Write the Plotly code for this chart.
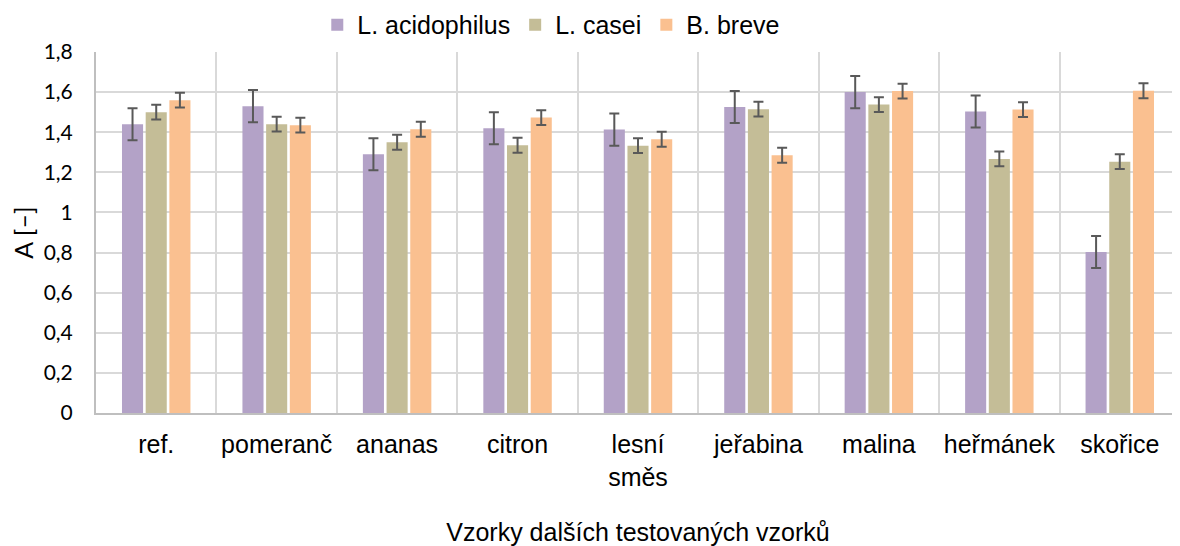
import plotly.graph_objects as go

categories = ["ref.", "pomeranč", "ananas", "citron", "lesní<br>směs", "jeřabina", "malina", "heřmánek", "skořice"]
acidophilus = [1.44, 1.53, 1.29, 1.42, 1.413, 1.526, 1.60, 1.503, 0.803]
casei = [1.50, 1.44, 1.35, 1.335, 1.333, 1.515, 1.538, 1.267, 1.253]
breve = [1.56, 1.435, 1.415, 1.473, 1.365, 1.285, 1.605, 1.513, 1.607]
err_acidophilus = [0.08, 0.08, 0.08, 0.08, 0.08, 0.08, 0.08, 0.08, 0.08]
err_casei = [0.037, 0.037, 0.037, 0.037, 0.037, 0.037, 0.037, 0.037, 0.037]
err_breve = [0.037, 0.037, 0.037, 0.037, 0.037, 0.037, 0.037, 0.037, 0.037]
y_ticks = [0, 0.2, 0.4, 0.6, 0.8, 1, 1.2, 1.4, 1.6, 1.8]
y_ticktext = ["0", "0,2", "0,4", "0,6", "0,8", "1", "1,2", "1,4", "1,6", "1,8"]

series = [
    ("L. acidophilus", acidophilus, err_acidophilus, "#b3a2c7"),
    ("L. casei", casei, err_casei, "#c4bd97"),
    ("B. breve", breve, err_breve, "#fac090"),
]

fig = go.Figure()
for name, vals, errs, color in series:
    fig.add_trace(go.Bar(
        name=name, x=categories, y=vals, marker=dict(color=color, line=dict(width=0)),
        error_y=dict(type="data", array=errs, visible=True, color="#595959", thickness=2, width=5),
    ))

fig.update_layout(
    width=1172, height=538,
    margin=dict(l=88, r=0, t=44, b=133, autoexpand=False),
    plot_bgcolor="white", paper_bgcolor="white",
    barmode="group", bargap=0.41, bargroupgap=0.11,
    font=dict(family="Liberation Sans, Arial, sans-serif", size=25, color="#000000"),
    legend=dict(orientation="h", x=0.42, xanchor="center", y=1.075, yanchor="middle",
                font=dict(size=25), itemwidth=30, traceorder="normal"),
    showlegend=True,
)
fig.update_xaxes(
    type="category", tickson="boundaries", showgrid=True, gridcolor="#d9d9d9", gridwidth=2,
    showline=True, linecolor="#bfbfbf", linewidth=2, ticks="", tickfont=dict(size=25),
    ticklabelstandoff=8,
    title=dict(text="Vzorky dalších testovaných vzorků", font=dict(size=25), standoff=34),
)
fig.update_yaxes(
    range=[0, 1.8], tickvals=y_ticks, ticktext=y_ticktext, showgrid=True, gridcolor="#d9d9d9", gridwidth=2,
    showline=True, linecolor="#bfbfbf", linewidth=2, ticks="", zeroline=False,
    tickfont=dict(family="Lato, sans-serif", size=21), ticklabelstandoff=17,
    title=dict(text="A [–]", font=dict(family="Lato, sans-serif", size=25), standoff=9),
)

fig.write_html("out.html")
